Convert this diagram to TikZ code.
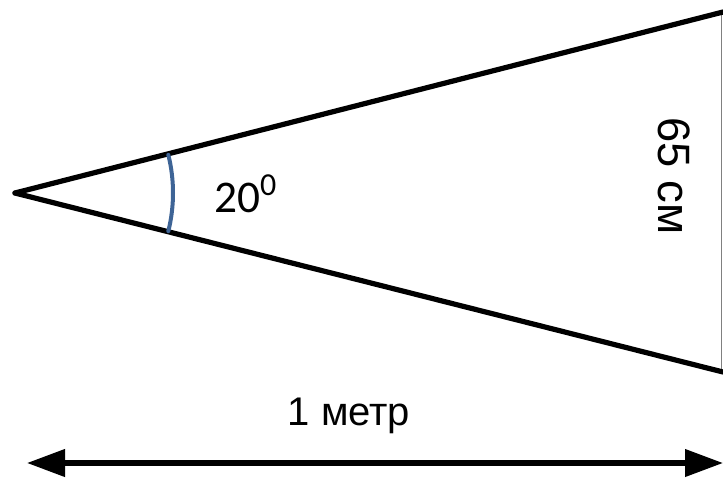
\documentclass[tikz,border=0pt]{standalone}
\usepackage{fontspec}
\setmainfont{Liberation Sans}
\newfontfamily\calfont{Carlito}
\usetikzlibrary{arrows.meta}
\definecolor{arcblue}{RGB}{62,100,150}

\begin{document}
\begin{tikzpicture}[
    x=0.75pt, y=-0.75pt,
    side/.style={line width=3.9pt, draw=black, line cap=round},
    edge/.style={line width=0.75pt, draw=black!50},
    anglemark/.style={line width=3pt, draw=arcblue, line cap=round},
    arr/.style={{Triangle[length=28.5pt,width=20pt]}-{Triangle[length=28.5pt,width=20pt]},
      line width=3.9pt, draw=black},
    lbl/.style={inner sep=0pt, text=black}
  ]
    \useasboundingbox (0,0) rectangle (723,478);
    \coordinate (apex) at (15,193);
    \coordinate (top) at (723,12);
    \coordinate (bot) at (723,372);
    \coordinate (gtop) at (721,12);
    \coordinate (gbot) at (721,370);
    \draw[edge] (gtop) -- (gbot);
    \draw[side] (apex) -- (top);
    \draw[side] (apex) -- (bot);
    \draw[anglemark] (apex) ++(-14:158) arc[start angle=-14, end angle=14, radius=158];
    \node[lbl, anchor=base west] (ang) at (214,212)
      {\fontsize{34}{40}\selectfont\calfont 20\raisebox{0.37em}{\fontsize{24}{28}\selectfont 0}};
    \node[lbl, rotate=-90, anchor=base] (width) at (658,176)
      {\fontsize{34}{40}\selectfont 65 см};
    \node[lbl, anchor=base] (len) at (349,425)
      {\fontsize{30}{36}\selectfont 1 метр};
    \coordinate (l) at (27,463);
    \coordinate (r) at (723,463);
    \draw[arr] (l) -- (r);
  \end{tikzpicture}
\end{document}
